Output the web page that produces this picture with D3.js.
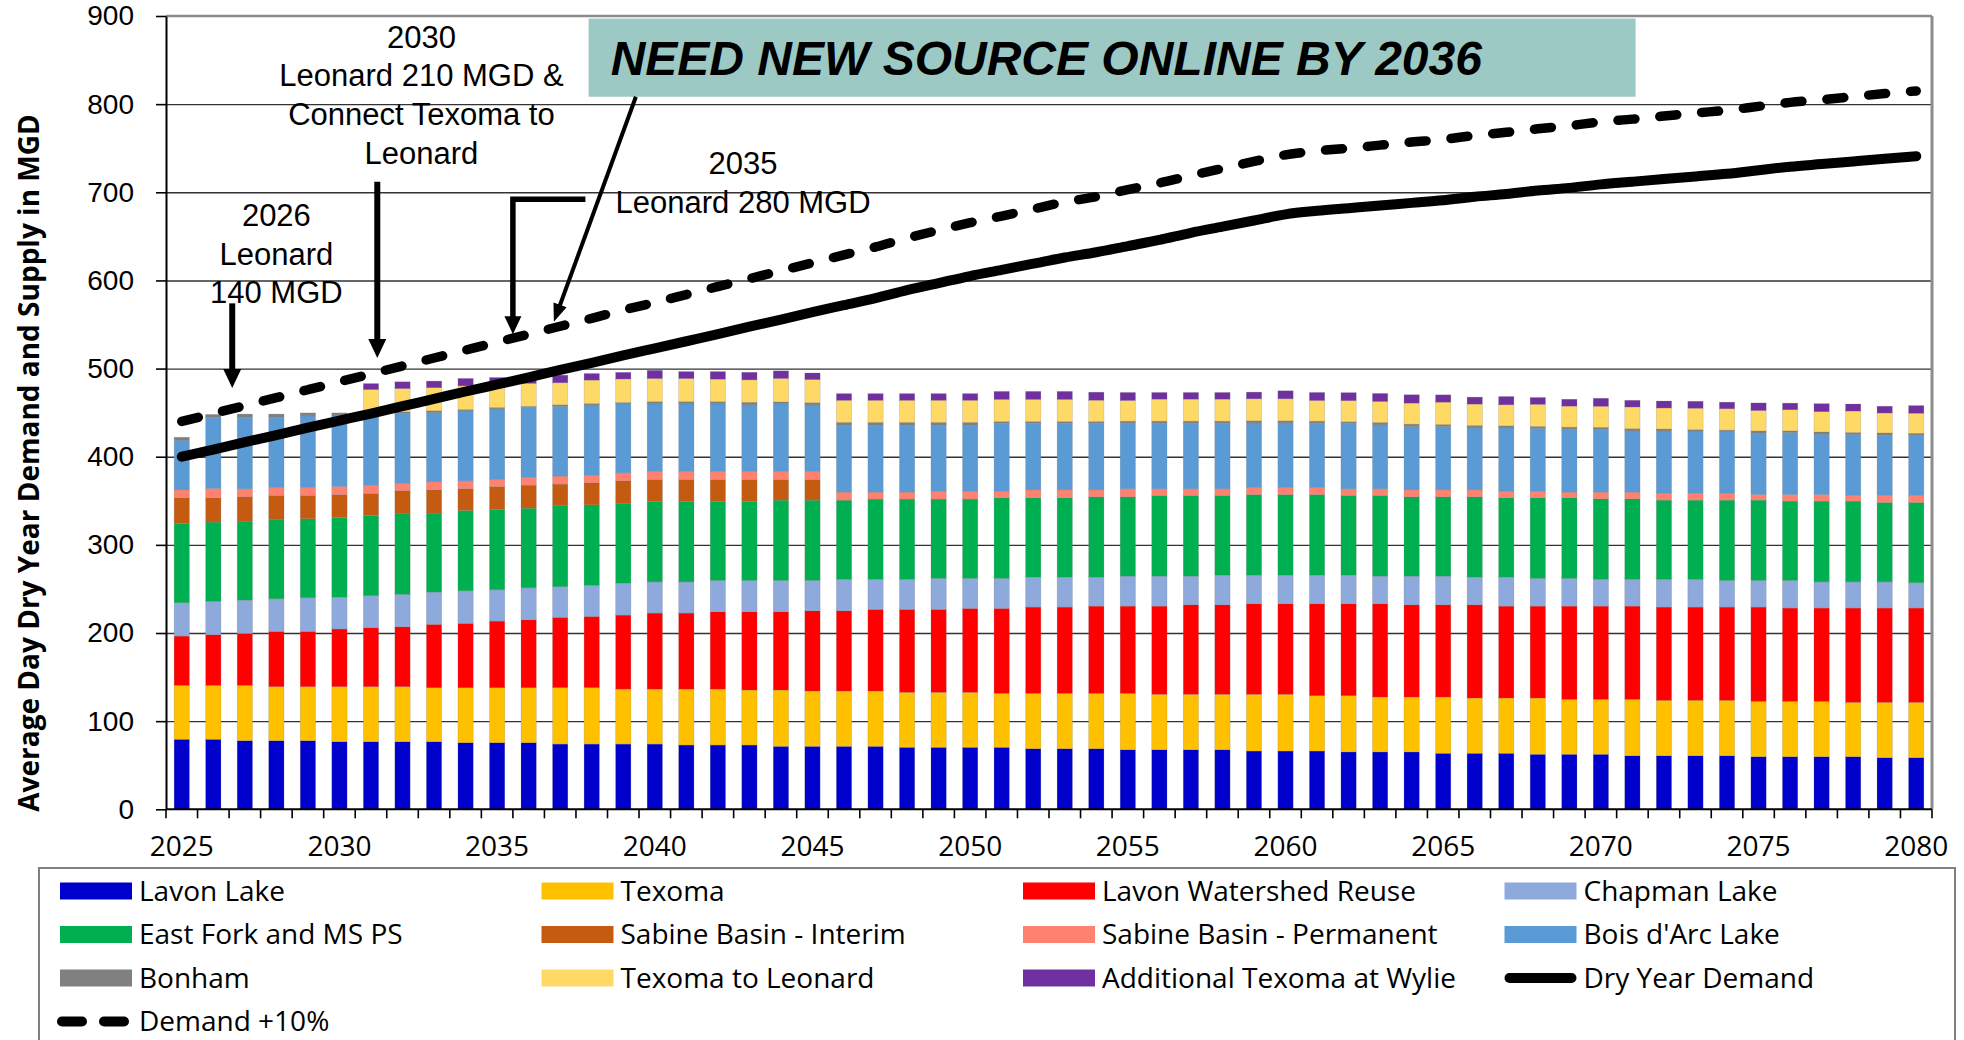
<!DOCTYPE html>
<html>
<head>
<meta charset="utf-8">
<script src="https://cdn.jsdelivr.net/npm/d3@7"></script>
<style>
  body { margin: 0; background: #fff; }
  svg { display: block; }
  .tick-y { font-family: "Liberation Sans", Arial, sans-serif; font-size: 28px; fill: #000; }
  .tick-x { font-family: "Open Sans", sans-serif; font-size: 28px; fill: #000; }
  .axis-title { font-family: "Open Sans", sans-serif; font-weight: 700; font-size: 28px; fill: #000; }
  .legend text { font-family: "Open Sans", sans-serif; font-size: 28px; fill: #000; }
  .note { font-family: "Liberation Sans", Arial, sans-serif; font-size: 31px; fill: #000; }
  .need { font-family: "Liberation Sans", Arial, sans-serif; font-size: 48px; font-weight: 700; font-style: italic; fill: #000; }
</style>
</head>
<body>
<svg id="chart" width="1964" height="1040"></svg>
<script>
var years = d3.range(2025, 2081)

// supply by source, MGD, 2025..2080
var lavonLake = [
  79.4, 79.4, 77.9, 77.9, 77.9, 76.7, 76.7, 76.7, 76.7, 75.6,
  75.6, 75.6, 74.0, 74.0, 74.0, 74.0, 72.9, 72.9, 72.9, 71.4,
  71.4, 71.4, 71.4, 70.3, 70.3, 70.3, 70.3, 68.8, 68.8, 68.8,
  67.6, 67.6, 67.6, 67.6, 66.1, 66.1, 66.1, 65.0, 65.0, 65.0,
  63.5, 63.5, 63.5, 62.4, 62.4, 62.4, 60.8, 60.8, 60.8, 60.8,
  59.7, 59.7, 59.7, 59.7, 58.6, 58.6]
var texoma = [
  61.2, 61.2, 62.7, 61.2, 61.2, 62.4, 62.4, 62.4, 61.2, 62.3,
  62.3, 62.3, 64.0, 64.0, 62.4, 62.4, 63.5, 63.5, 62.4, 63.9,
  62.8, 62.8, 62.8, 62.4, 62.4, 62.4, 61.2, 62.7, 62.7, 62.7,
  63.9, 62.8, 62.8, 62.8, 64.3, 64.3, 62.8, 63.9, 62.4, 62.4,
  63.9, 62.7, 62.7, 63.8, 62.3, 62.3, 63.9, 62.8, 62.8, 62.8,
  62.7, 62.7, 62.7, 61.6, 62.7, 62.7]
var lavonReuse = [
  55.9, 57.4, 58.6, 62.7, 62.7, 65.4, 66.9, 68.0, 71.9, 73.0,
  75.6, 77.1, 79.7, 80.8, 83.9, 86.2, 86.2, 87.7, 88.8, 88.8,
  91.0, 91.0, 92.6, 94.1, 94.1, 95.2, 96.4, 97.9, 97.9, 99.0,
  99.0, 100.1, 101.6, 101.6, 102.8, 102.8, 104.3, 104.3, 105.8, 104.6,
  104.6, 105.8, 104.3, 104.3, 105.8, 105.8, 105.8, 105.8, 105.8, 105.8,
  107.0, 105.9, 105.9, 107.0, 107.0, 107.0]
var chapmanLake = [
  37.8, 37.8, 38.1, 37.0, 38.2, 36.2, 36.3, 36.7, 36.6, 37.0,
  35.5, 36.3, 34.8, 35.2, 36.3, 35.4, 35.4, 35.5, 35.5, 35.5,
  34.4, 35.6, 34.0, 34.0, 35.1, 34.0, 34.0, 34.0, 34.0, 32.9,
  34.0, 34.0, 32.5, 33.7, 32.5, 32.5, 32.5, 32.5, 31.3, 32.5,
  32.5, 31.4, 32.9, 31.4, 31.4, 30.3, 30.3, 31.4, 31.4, 30.2,
  30.2, 31.3, 29.7, 29.7, 29.7, 28.7]
var eastFork = [
  90.0, 90.0, 89.6, 89.6, 89.6, 90.3, 91.0, 91.4, 89.6, 91.1,
  91.0, 90.3, 91.8, 91.4, 90.0, 91.2, 91.2, 89.6, 89.6, 91.1,
  91.1, 89.9, 91.1, 91.1, 90.0, 90.0, 91.5, 90.0, 90.0, 91.1,
  90.0, 91.5, 91.5, 90.3, 91.4, 91.4, 91.4, 90.3, 91.5, 90.0,
  90.0, 91.1, 90.0, 91.5, 91.5, 91.4, 91.4, 89.9, 89.9, 91.1,
  91.1, 90.0, 91.6, 91.6, 90.1, 91.1]
var sabineInterim = [
  29.1, 27.6, 27.6, 27.6, 26.4, 26.1, 25.0, 26.1, 26.4, 24.6,
  26.2, 26.1, 24.6, 25.0, 26.0, 24.9, 24.9, 24.9, 24.9, 23.4,
  23.4, 0, 0, 0, 0, 0, 0, 0, 0, 0,
  0, 0, 0, 0, 0, 0, 0, 0, 0, 0,
  0, 0, 0, 0, 0, 0, 0, 0, 0, 0,
  0, 0, 0, 0, 0, 0]
var sabinePermanent = [
  9.0, 10.6, 9.1, 9.0, 9.0, 9.1, 9.0, 8.7, 9.1, 9.0,
  7.9, 8.7, 9.1, 8.6, 9.1, 9.1, 9.1, 9.1, 9.1, 9.1,
  9.1, 9.1, 7.9, 7.9, 9.0, 9.0, 7.5, 9.0, 9.0, 7.9,
  9.1, 7.6, 7.6, 7.6, 7.9, 7.9, 7.9, 7.6, 7.6, 7.9,
  7.9, 7.9, 7.5, 7.5, 6.4, 7.6, 7.6, 8.0, 8.0, 8.0,
  6.4, 7.5, 7.5, 6.4, 7.9, 7.9]
var boisDarc = [
  56.3, 80.8, 81.2, 79.8, 81.3, 80.1, 79.7, 79.0, 78.5, 79.4,
  80.2, 79.4, 79.3, 79.8, 78.3, 76.8, 76.8, 76.8, 75.6, 76.8,
  75.6, 76.0, 76.0, 76.0, 74.9, 74.9, 76.7, 75.2, 75.2, 75.2,
  74.0, 74.0, 74.0, 74.0, 73.4, 73.4, 72.6, 74.0, 72.5, 71.8,
  71.8, 70.3, 71.8, 71.3, 71.0, 71.4, 69.5, 70.6, 69.5, 69.5,
  69.6, 70.3, 68.4, 69.5, 68.4, 68.4]
var bonham = [
  3.4, 3.2, 3.6, 3.6, 3.4, 3.4, 2.0, 2.0, 2.2, 1.6,
  1.6, 1.4, 1.6, 1.6, 1.6, 2.6, 2.6, 2.6, 3.0, 2.2,
  2.6, 3.2, 3.2, 3.2, 3.2, 3.2, 2.4, 2.4, 2.4, 2.4,
  2.8, 2.8, 2.8, 2.8, 2.4, 2.4, 2.8, 2.2, 2.8, 2.8,
  2.4, 2.8, 2.4, 2.2, 2.8, 2.2, 2.6, 2.2, 2.6, 2.0,
  2.6, 2.0, 2.6, 2.0, 2.6, 2.2]
var texomaLeonard = [
  0, 0, 0, 0, 0, 0, 27.2, 26.3, 26.1, 26.8,
  27.2, 26.0, 25.0, 26.5, 26.6, 26.1, 26.1, 25.4, 25.4, 26.6,
  26.1, 25.0, 25.0, 25.0, 25.0, 25.0, 25.0, 25.0, 25.0, 24.1,
  23.4, 24.9, 24.9, 24.9, 24.9, 24.9, 23.4, 23.8, 23.8, 23.8,
  25.3, 24.2, 23.8, 25.0, 23.8, 23.8, 24.5, 23.8, 24.2, 24.2,
  23.1, 23.9, 23.0, 24.3, 22.6, 22.7]
var addlTexomaWylie = [
  0, 0, 0, 0, 0, 0, 6.8, 7.7, 7.5, 8.4,
  6.8, 7.0, 8.6, 7.5, 7.5, 9.3, 7.9, 8.6, 8.6, 8.6,
  7.5, 7.6, 7.6, 7.6, 7.6, 7.6, 9.1, 9.1, 9.1, 9.1,
  9.1, 7.6, 7.6, 7.6, 7.6, 9.1, 9.1, 9.1, 9.1, 9.5,
  8.3, 7.9, 9.4, 7.8, 7.8, 9.1, 7.6, 7.9, 7.9, 7.5,
  8.6, 7.5, 9.1, 8.0, 7.7, 8.7]

// demand lines, MGD
var dryYearDemand = [
  400, 408, 416.5, 424.5, 433, 441, 449, 457.5, 465.5, 474,
  482, 490, 498.5, 506.5, 515, 523, 531, 539, 547.5, 555.5,
  564, 572, 580, 589, 597, 605, 612, 619, 626, 632,
  639, 646, 654, 661, 668, 675, 679, 682, 685, 688,
  691, 695, 698, 702, 705, 709, 712, 715, 718, 721,
  725, 729, 732, 735, 738, 741]
var demandPlus10 = [
  440, 449, 458, 467, 476, 485, 494, 503, 512, 521,
  530, 539, 548, 557, 566.5, 575, 584, 593, 602, 611,
  620, 629, 638, 648, 657, 665.5, 673, 681, 689, 695,
  703, 710.5, 719, 727, 735, 742.5, 747, 750, 753.5, 757,
  760, 764.5, 768, 772, 775.5, 780, 783, 786.5, 790, 793,
  797.5, 802, 805, 808.5, 812, 815]

var yTicks = [0, 100, 200, 300, 400, 500, 600, 700, 800, 900]
var xTickYears = [2025, 2030, 2035, 2040, 2045, 2050, 2055, 2060, 2065, 2070, 2075, 2080]

var seriesNames = ["Lavon Lake", "Texoma", "Lavon Watershed Reuse", "Chapman Lake",
  "East Fork and MS PS", "Sabine Basin - Interim", "Sabine Basin - Permanent", "Bois d'Arc Lake",
  "Bonham", "Texoma to Leonard", "Additional Texoma at Wylie"]
var seriesValues = [lavonLake, texoma, lavonReuse, chapmanLake, eastFork, sabineInterim,
  sabinePermanent, boisDarc, bonham, texomaLeonard, addlTexomaWylie]
var seriesColors = ["#0000CC", "#FFC000", "#FF0000", "#8EA9DB", "#00B050", "#C55A11",
  "#FF8170", "#5B9BD5", "#808080", "#FFD966", "#7030A0"]

// annotations, placed in (year, MGD)
var notes = [
  { year: 2028.0, value: 662, lines: ["2026", "Leonard", "140 MGD"] },
  { year: 2032.6, value: 864, lines: ["2030", "Leonard 210 MGD &", "Connect Texoma to", "Leonard"] },
  { year: 2042.8, value: 721, lines: ["2035", "Leonard 280 MGD"] }
]
var downArrows = [
  { year: 2026.6, from: 574, to: 478 },
  { year: 2031.2, from: 712, to: 512 }
]
var elbowArrow = { fromYear: 2037.8, year: 2035.5, from: 692, to: 539 }
var needBox = { x0: 2037.9, x1: 2071.1, y0: 808.4, y1: 897.1, textYear: 2038.6, textValue: 833,
  label: "NEED NEW SOURCE ONLINE BY 2036", fromYear: 2039.4, from: 808.4, toYear: 2036.8, to: 553 }

var plot = { left: 166, right: 1932, top: 16, bottom: 809.3 }
var svg = d3.select('#chart')

var x = d3.scaleBand().domain(years).range([plot.left, plot.right])
  .paddingInner(0.515).paddingOuter(0.2575)
var y = d3.scaleLinear().domain([0, 900]).range([plot.bottom, plot.top])
var bw = x.bandwidth()
function xc(yr) { return x(yr) + bw / 2 }
var xYear = d3.scaleLinear().domain([2025, 2080]).range([xc(2025), xc(2080)])

// gridlines
svg.append('g')
  .attr('transform', 'translate(' + plot.left + ',0)')
  .call(d3.axisLeft(y).tickValues(yTicks.slice(1, -1)).tickSize(-(plot.right - plot.left)).tickFormat(''))
  .call(function (g) { g.select('.domain').remove() })
  .selectAll('line').attr('stroke', '#333').attr('stroke-width', 1.4)

// top + right frame
svg.append('line').attr('x1', plot.left).attr('x2', plot.right)
  .attr('y1', y(900)).attr('y2', y(900)).attr('stroke', '#8c8c8c').attr('stroke-width', 2.5)
svg.append('line').attr('x1', plot.right).attr('x2', plot.right)
  .attr('y1', y(900)).attr('y2', y(0)).attr('stroke', '#8c8c8c').attr('stroke-width', 3)

// stacked bars
var table = years.map(function (yr, i) {
  var row = { year: yr }
  seriesNames.forEach(function (name, k) { row[name] = seriesValues[k][i] })
  return row
})
var stacked = d3.stack().keys(seriesNames)(table)

svg.append('g').selectAll('g')
  .data(stacked).join('g')
  .attr('fill', function (d, i) { return seriesColors[i] })
  .selectAll('rect')
  .data(function (d) { return d.filter(function (s) { return s[1] - s[0] > 0 }) })
  .join('rect')
  .attr('x', function (d) { return x(d.data.year) })
  .attr('width', bw)
  .attr('y', function (d) { return y(d[1]) })
  .attr('height', function (d) { return y(d[0]) - y(d[1]) })
  .attr('stroke', 'rgba(120,120,120,0.35)')
  .attr('stroke-width', 0.6)

// y axis
var yAxis = svg.append('g')
  .attr('transform', 'translate(' + plot.left + ',0)')
  .call(d3.axisLeft(y).tickValues(yTicks).tickSize(10).tickSizeOuter(0).tickPadding(22))
yAxis.select('.domain').attr('stroke', '#000').attr('stroke-width', 2)
yAxis.selectAll('line').attr('stroke', '#000').attr('stroke-width', 1.6)
yAxis.selectAll('text').attr('class', 'tick-y').attr('font-size', null).attr('font-family', null)

// x axis
svg.append('line').attr('x1', plot.left).attr('x2', plot.right)
  .attr('y1', plot.bottom).attr('y2', plot.bottom).attr('stroke', '#000').attr('stroke-width', 2)
var bounds = years.map(function (yr) { return x(yr) - x.step() * x.paddingInner() / 2 }).concat([plot.right])
svg.append('g').selectAll('line').data(bounds).join('line')
  .attr('x1', function (d) { return d }).attr('x2', function (d) { return d })
  .attr('y1', plot.bottom).attr('y2', plot.bottom + 9)
  .attr('stroke', '#000').attr('stroke-width', 1.6)
svg.append('g').selectAll('text').data(xTickYears).join('text')
  .attr('class', 'tick-x')
  .attr('x', function (d) { return xc(d) })
  .attr('y', plot.bottom + 47)
  .attr('text-anchor', 'middle')
  .text(function (d) { return d })

svg.append('text')
  .attr('class', 'axis-title')
  .attr('transform', 'translate(39,463) rotate(-90)')
  .attr('text-anchor', 'middle')
  .text('Average Day Dry Year Demand and Supply in MGD')

// demand lines
var line = d3.line()
  .x(function (d) { return xc(d.year) })
  .y(function (d) { return y(d.value) })
  .curve(d3.curveMonotoneX)

function toPoints(arr) { return years.map(function (yr, i) { return { year: yr, value: arr[i] } }) }

svg.append('path').datum(toPoints(demandPlus10))
  .attr('d', line).attr('fill', 'none').attr('stroke', '#000')
  .attr('stroke-width', 9.5).attr('stroke-dasharray', '17,25').attr('stroke-linecap', 'round')
svg.append('path').datum(toPoints(dryYearDemand))
  .attr('d', line).attr('fill', 'none').attr('stroke', '#000')
  .attr('stroke-width', 10).attr('stroke-linecap', 'round').attr('stroke-linejoin', 'round')

// annotations
function head(tx, ty, angle, len, wid) {
  var bx = tx - Math.cos(angle) * len, by = ty - Math.sin(angle) * len
  var px = -Math.sin(angle) * wid / 2, py = Math.cos(angle) * wid / 2
  return 'M' + tx + ',' + ty + 'L' + (bx + px) + ',' + (by + py) + 'L' + (bx - px) + ',' + (by - py) + 'Z'
}

var ann = svg.append('g')

notes.forEach(function (n) {
  var t = ann.append('text').attr('class', 'note').attr('text-anchor', 'middle')
    .attr('x', xYear(n.year)).attr('y', y(n.value))
  n.lines.forEach(function (s, i) {
    t.append('tspan').attr('x', xYear(n.year)).attr('dy', i === 0 ? 0 : '1.25em').text(s)
  })
})

downArrows.forEach(function (a) {
  var ax = xYear(a.year)
  ann.append('line').attr('x1', ax).attr('x2', ax)
    .attr('y1', y(a.from)).attr('y2', y(a.to) - 16)
    .attr('stroke', '#000').attr('stroke-width', 6)
  ann.append('path').attr('d', head(ax, y(a.to), Math.PI / 2, 19, 18)).attr('fill', '#000')
})

ann.append('path')
  .attr('d', 'M' + xYear(elbowArrow.fromYear) + ',' + y(elbowArrow.from) +
    'H' + xYear(elbowArrow.year) + 'V' + (y(elbowArrow.to) - 15))
  .attr('fill', 'none').attr('stroke', '#000').attr('stroke-width', 5.5)
ann.append('path').attr('d', head(xYear(elbowArrow.year), y(elbowArrow.to), Math.PI / 2, 18, 17)).attr('fill', '#000')

ann.append('rect')
  .attr('x', xYear(needBox.x0)).attr('y', y(needBox.y1))
  .attr('width', xYear(needBox.x1) - xYear(needBox.x0))
  .attr('height', y(needBox.y0) - y(needBox.y1))
  .attr('fill', '#9DC9C5')
ann.append('text').attr('class', 'need')
  .attr('x', xYear(needBox.textYear)).attr('y', y(needBox.textValue))
  .text(needBox.label)

var nx0 = xYear(needBox.fromYear), ny0 = y(needBox.from)
var nx1 = xYear(needBox.toYear), ny1 = y(needBox.to)
var ang = Math.atan2(ny1 - ny0, nx1 - nx0)
ann.append('line').attr('x1', nx0).attr('y1', ny0)
  .attr('x2', nx1 - Math.cos(ang) * 15).attr('y2', ny1 - Math.sin(ang) * 15)
  .attr('stroke', '#000').attr('stroke-width', 4)
ann.append('path').attr('d', head(nx1, ny1, ang, 18, 14)).attr('fill', '#000')

// legend
var legendItems = seriesNames.map(function (n, i) { return { name: n, type: 'bar', color: seriesColors[i] } })
  .concat([{ name: 'Dry Year Demand', type: 'solid' }, { name: 'Demand +10%', type: 'dash' }])

var legend = svg.append('g').attr('class', 'legend')
legend.append('rect')
  .attr('x', 39).attr('y', 868).attr('width', 1916).attr('height', 190)
  .attr('fill', '#fff').attr('stroke', '#808080').attr('stroke-width', 2)

var item = legend.selectAll('g.item').data(legendItems).join('g')
  .attr('class', 'item')
  .attr('transform', function (d, i) {
    return 'translate(' + (60 + (i % 4) * 481.5) + ',' + (891 + Math.floor(i / 4) * 43.5) + ')'
  })

item.filter(function (d) { return d.type === 'bar' }).append('rect')
  .attr('x', 0).attr('y', -8.5).attr('width', 72).attr('height', 17)
  .attr('fill', function (d) { return d.color })
item.filter(function (d) { return d.type === 'solid' }).append('line')
  .attr('x1', 5).attr('x2', 67).attr('y1', 0).attr('y2', 0)
  .attr('stroke', '#000').attr('stroke-width', 10).attr('stroke-linecap', 'round')
item.filter(function (d) { return d.type === 'dash' }).append('line')
  .attr('x1', 2).attr('x2', 64).attr('y1', 0).attr('y2', 0)
  .attr('stroke', '#000').attr('stroke-width', 10).attr('stroke-linecap', 'round')
  .attr('stroke-dasharray', '20,22')
item.append('text')
  .attr('x', 79).attr('y', 9.5)
  .text(function (d) { return d.name })
</script>
</body>
</html>
